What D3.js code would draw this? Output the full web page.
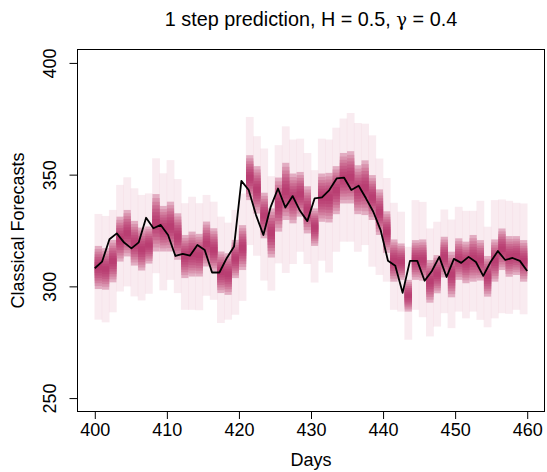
<!DOCTYPE html>
<html>
<head>
<meta charset="utf-8">
<script src="https://cdn.jsdelivr.net/npm/d3@7"></script>
<style>
  html, body { margin: 0; padding: 0; background: #fff; }
  svg { display: block; }
  text { font-family: "Liberation Sans", Arial, Helvetica, sans-serif; fill: #000; }
</style>
</head>
<body>
<svg id="chart" width="547" height="472"></svg>
<script>
// ---------------- data ----------------
const titleParts = ["1 step prediction, H = 0.5, ", "\u03B3", " = 0.4"];
const xLabel = "Days";
const yLabel = "Classical Forecasts";
const xTicks = [400, 410, 420, 430, 440, 450, 460];
const yTicks = [250, 300, 350, 400];
const dayStart = 400;
const dayEnd = 460;

// observed series (black line), 60 points spread over days 400..460
const observed = [
  308.1, 311.1, 321.1, 323.7, 319.6, 317.0, 319.7, 330.7, 326.0, 327.5,
  323.0, 313.6, 314.5, 313.8, 318.5, 316.3, 306.2, 306.2, 312.6, 317.8,
  347.2, 343.1, 331.9, 323.0, 335.6, 343.8, 335.3, 340.4, 333.8, 329.2,
  339.4, 339.8, 343.1, 348.3, 348.7, 343.1, 345.0, 339.4, 333.4, 325.2,
  311.5, 309.2, 297.1, 311.4, 311.4, 302.5, 306.9, 313.2, 304.2, 312.3,
  310.5, 313.2, 310.9, 304.7, 310.9, 315.8, 311.8, 312.7, 311.4, 306.9
];

// forecast fan, one box per day: outer (light) band and inner (dark) band
const outerHi = [
  332.4, 331.5, 334.2, 345.4, 348.8, 343.9, 340.9, 341.6, 357.3, 350.6,
  356.5, 348.0, 337.2, 340.1, 337.2, 340.9, 337.9, 331.2, 328.5, 334.2,
  341.5, 375.8, 367.2, 361.7, 349.3, 363.2, 371.6, 365.7, 366.1, 359.7,
  352.0, 366.1, 365.7, 371.0, 375.1, 377.6, 373.1, 372.8, 367.6, 357.2,
  348.5, 337.4, 333.4, 317.7, 338.6, 337.8, 325.9, 328.9, 334.4, 329.9,
  335.6, 333.8, 333.8, 338.3, 326.7, 338.6, 338.9, 338.3, 337.4, 337.1
];
const outerLo = [
  285.1, 283.9, 288.4, 297.7, 300.0, 295.5, 293.7, 296.7, 305.9, 298.2,
  302.9, 297.0, 289.5, 289.5, 289.3, 295.8, 294.0, 283.6, 285.1, 287.3,
  293.5, 318.5, 313.7, 302.6, 298.1, 310.3, 306.0, 310.0, 315.5, 310.0,
  301.7, 311.5, 306.2, 315.5, 320.0, 320.0, 315.5, 318.5, 308.8, 305.1,
  302.1, 289.5, 288.7, 276.1, 289.5, 286.2, 277.6, 282.0, 288.0, 281.3,
  288.7, 285.7, 288.7, 285.0, 281.7, 285.7, 288.0, 287.7, 289.5, 287.5
];
const innerHi = [
  318.1, 317.1, 320.8, 331.2, 334.2, 329.3, 326.3, 326.8, 341.3, 336.0,
  337.9, 332.7, 323.0, 324.5, 323.5, 329.0, 326.0, 315.6, 314.8, 320.8,
  327.4, 358.7, 353.8, 341.9, 334.9, 348.7, 355.3, 350.5, 351.2, 344.8,
  334.9, 350.5, 350.8, 353.8, 359.7, 360.5, 354.2, 356.4, 349.8, 343.4,
  333.6, 321.0, 319.2, 302.9, 320.7, 321.0, 311.8, 314.0, 322.2, 315.5,
  321.5, 320.0, 323.0, 320.7, 313.6, 321.0, 325.9, 322.5, 322.5, 320.7
];
const innerLo = [
  298.8, 298.5, 301.8, 311.1, 313.4, 309.3, 307.1, 310.2, 315.6, 315.6,
  315.6, 311.9, 303.7, 304.4, 304.4, 308.9, 306.7, 297.0, 296.2, 303.7,
  307.3, 338.6, 332.6, 321.5, 312.9, 324.5, 329.7, 328.2, 331.2, 323.7,
  318.1, 328.9, 328.6, 332.3, 337.1, 337.1, 332.3, 331.9, 329.7, 323.0,
  315.0, 302.1, 302.9, 288.7, 302.9, 302.6, 292.7, 296.9, 304.0, 295.1,
  302.9, 301.4, 302.1, 302.6, 295.4, 302.1, 307.3, 304.3, 305.1, 302.1
];
// inner quantile levels (share of the inner band) and their shades
const levelShare = [1.0, 0.86, 0.73, 0.61, 0.49, 0.37, 0.25, 0.13];
const levelColor = ["#E2ADC2", "#D994AF", "#D27F9F", "#CB6C92", "#C55C87", "#C04F7E", "#BC4577", "#B93E72"];
const outerColor = "#F1D2DE";

// ---------------- layout ----------------
const svg = d3.select("#chart");
const box = { left: 77.5, right: 544.5, top: 49.5, bottom: 411.5 };

const x = d3.scaleLinear()
  .domain([dayStart - 0.04 * (dayEnd - dayStart), dayEnd + 0.04 * (dayEnd - dayStart)])
  .range([box.left, box.right]);
const y = d3.scaleLinear()
  .domain([250 - 0.04 * 150, 400 + 0.04 * 150])
  .range([box.bottom, box.top]);

const nBars = outerHi.length;
const barStep = (dayEnd - dayStart) / nBars;
const bars = d3.range(nBars).map(i => ({
  d0: dayStart + i * barStep,
  d1: dayStart + (i + 1) * barStep,
  oHi: outerHi[i], oLo: outerLo[i], iHi: innerHi[i], iLo: innerLo[i]
}));

const plot = svg.append("g");

// outer light boxes (slightly overlapping for faint seams)
plot.append("g").selectAll("rect")
  .data(bars).join("rect")
  .attr("x", d => x(d.d0) - 0.3)
  .attr("width", d => x(d.d1) - x(d.d0) + 0.6)
  .attr("y", d => y(d.oHi))
  .attr("height", d => y(d.oLo) - y(d.oHi))
  .attr("fill", outerColor)
  .attr("fill-opacity", 0.45);

// inner quantile layers
levelShare.forEach((s, li) => {
  plot.append("g").selectAll("rect")
    .data(bars).join("rect")
    .attr("x", d => x(d.d0))
    .attr("width", d => x(d.d1) - x(d.d0))
    .attr("y", d => { const m = (d.iHi + d.iLo) / 2; return y(m + s * (d.iHi - m)); })
    .attr("height", d => { const m = (d.iHi + d.iLo) / 2; return y(m - s * (m - d.iLo)) - y(m + s * (d.iHi - m)); })
    .attr("fill", levelColor[li]);
});

// observed line
const nObs = observed.length;
const line = d3.line()
  .x((v, i) => x(dayStart + i * (dayEnd - dayStart) / (nObs - 1)))
  .y(v => y(v));
plot.append("path")
  .datum(observed)
  .attr("d", line)
  .attr("fill", "none")
  .attr("stroke", "#000")
  .attr("stroke-width", 1.8)
  .attr("stroke-linejoin", "round");

// frame
svg.append("rect")
  .attr("x", box.left).attr("y", box.top)
  .attr("width", box.right - box.left).attr("height", box.bottom - box.top)
  .attr("fill", "none").attr("stroke", "#000").attr("stroke-width", 1);

// axes
const fs = 18;
const xAxis = d3.axisBottom(x).tickValues(xTicks).tickSize(7.5).tickPadding(4).tickFormat(d3.format("d"));
const gx = svg.append("g").attr("transform", `translate(0,${box.bottom})`).call(xAxis);
gx.select(".domain").remove();
gx.selectAll("line").attr("stroke", "#000");
gx.selectAll("text").attr("font-size", fs).attr("fill", "#000")
  .attr("font-family", "Liberation Sans, Arial, sans-serif");

const yAxis = d3.axisLeft(y).tickValues(yTicks).tickSize(8).tickFormat(d3.format("d"));
const gy = svg.append("g").attr("transform", `translate(${box.left},0)`).call(yAxis);
gy.select(".domain").remove();
gy.selectAll("line").attr("stroke", "#000");
gy.selectAll("text")
  .attr("font-size", fs).attr("fill", "#000")
  .attr("font-family", "Liberation Sans, Arial, sans-serif")
  .attr("x", null).attr("dy", null)
  .attr("text-anchor", "middle")
  .attr("transform", d => `translate(-22,0) rotate(-90)`)
  .attr("y", 0);

// titles
const title = svg.append("text")
  .attr("x", (box.left + box.right) / 2).attr("y", 26)
  .attr("text-anchor", "middle").attr("font-size", 19.8);
title.append("tspan").text(titleParts[0]);
title.append("tspan").attr("font-family", "DejaVu Serif, Liberation Serif, serif").attr("font-size", 18).text(titleParts[1]);
title.append("tspan").text(titleParts[2]);

svg.append("text")
  .attr("x", (box.left + box.right) / 2).attr("y", 466)
  .attr("text-anchor", "middle").attr("font-size", fs)
  .text(xLabel);
svg.append("text")
  .attr("transform", `translate(24,${(box.top + box.bottom) / 2}) rotate(-90)`)
  .attr("text-anchor", "middle").attr("font-size", fs)
  .text(yLabel);
</script>
</body>
</html>
